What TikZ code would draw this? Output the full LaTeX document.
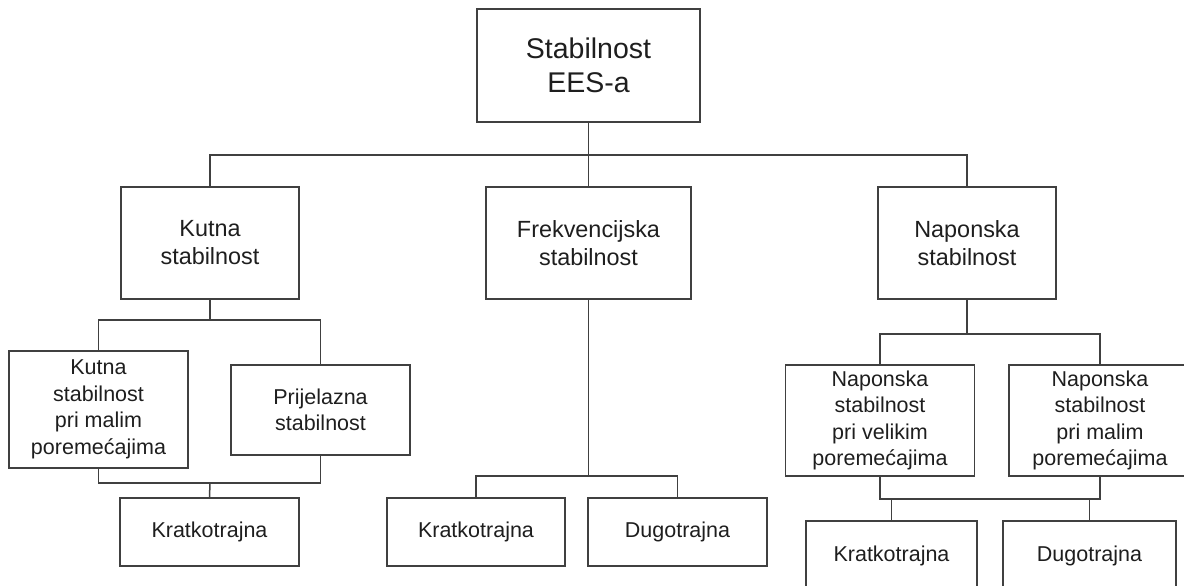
\documentclass[tikz,border=0pt]{standalone}
\usepackage{fontspec}
\setmainfont{Liberation Sans}

\definecolor{linegray}{HTML}{404040}
\definecolor{textgray}{HTML}{1E1E1E}

\tikzset{
    box/.style 2 args = {draw=linegray, line width=0.75pt, text=textgray, align=center,
        inner sep=0pt, minimum width=#1pt, minimum height=#2pt},
    lvltop/.style = {font=\fontsize{14.25}{17}\selectfont},
    lvlmid/.style = {font=\fontsize{11.7}{14}\selectfont},
    lvllow/.style = {font=\fontsize{10.75}{13.3}\selectfont},
    wire/.style = {draw=linegray, line width=0.75pt}
}

\begin{document}
\begin{tikzpicture}[x=0.5pt, y=-0.5pt]
    \useasboundingbox (0,0) rectangle (1184,585);
    \clip (0,0) rectangle (1184,585);
    % prva razina
    \node[box={111.5}{56.5}, lvltop] (ees) at (588.5,65.5) {Stabilnost\\EES-a};
    \node[box={89}{56}, lvlmid] (kutna) at (210,243) {Kutna\\stabilnost};
    \node[box={102.5}{56}, lvlmid] (frekv) at (588.5,243) {Frekvencijska\\stabilnost};
    \node[box={89}{56}, lvlmid] (napon) at (967,243) {Naponska\\stabilnost};
    % druga razina
    \node[box={89.5}{58.5}, lvllow] (kutmal) at (98.5,409.5) {Kutna\\stabilnost\\pri malim\\poremećajima};
    \node[box={89.5}{45}, lvllow] (prij) at (320.5,410) {Prijelazna\\stabilnost};
    \node[box={94.5}{55.5}, lvllow] (napvel) at (880,420.5) {Naponska\\stabilnost\\pri velikim\\poremećajima};
    \node[box={91}{55.5}, lvllow] (napmal) at (1100,420.5) {Naponska\\stabilnost\\pri malim\\poremećajima};
    % trajanje
    \node[box={89.5}{34}, lvllow] (kratkA) at (209.5,532) {Kratkotrajna};
    \node[box={89}{34}, lvllow] (kratkB) at (476,532) {Kratkotrajna};
    \node[box={89.5}{34}, lvllow] (dugB) at (677.5,532) {Dugotrajna};
    \node[box={85.5}{35}, lvllow] (kratkC) at (891.5,556) {Kratkotrajna};
    \node[box={86.5}{35}, lvllow] (dugC) at (1089.5,556) {Dugotrajna};

    \coordinate (jEes) at (588.5,155);
    \coordinate (jKut) at (210,320);
    \coordinate (jKutB) at (210,483);
    \coordinate (jFre) at (588.5,476);
    \coordinate (jNap) at (967,334);
    \coordinate (jNapB) at (990,499);

    \draw[wire] (ees.south) -- (jEes);
    \draw[wire] (kutna.north) |- (jEes) -| (napon.north);
    \draw[wire] (jEes) -- (frekv.north);

    \draw[wire] (kutna.south) -- (jKut);
    \draw[wire] (kutmal.north) |- (jKut) -| (prij.north);
    \draw[wire] (kutmal.south) |- (jKutB) -| (prij.south);
    \draw[wire] (jKutB) -- (kratkA.north);

    \draw[wire] (frekv.south) -- (jFre);
    \draw[wire] (kratkB.north) |- (jFre) -| (dugB.north);

    \draw[wire] (napon.south) -- (jNap);
    \draw[wire] (napvel.north) |- (jNap) -| (napmal.north);
    \draw[wire] (napvel.south) |- (jNapB) -| (napmal.south);
    \draw[wire] (kratkC.north) |- (jNapB) -| (dugC.north);
\end{tikzpicture}
\end{document}
